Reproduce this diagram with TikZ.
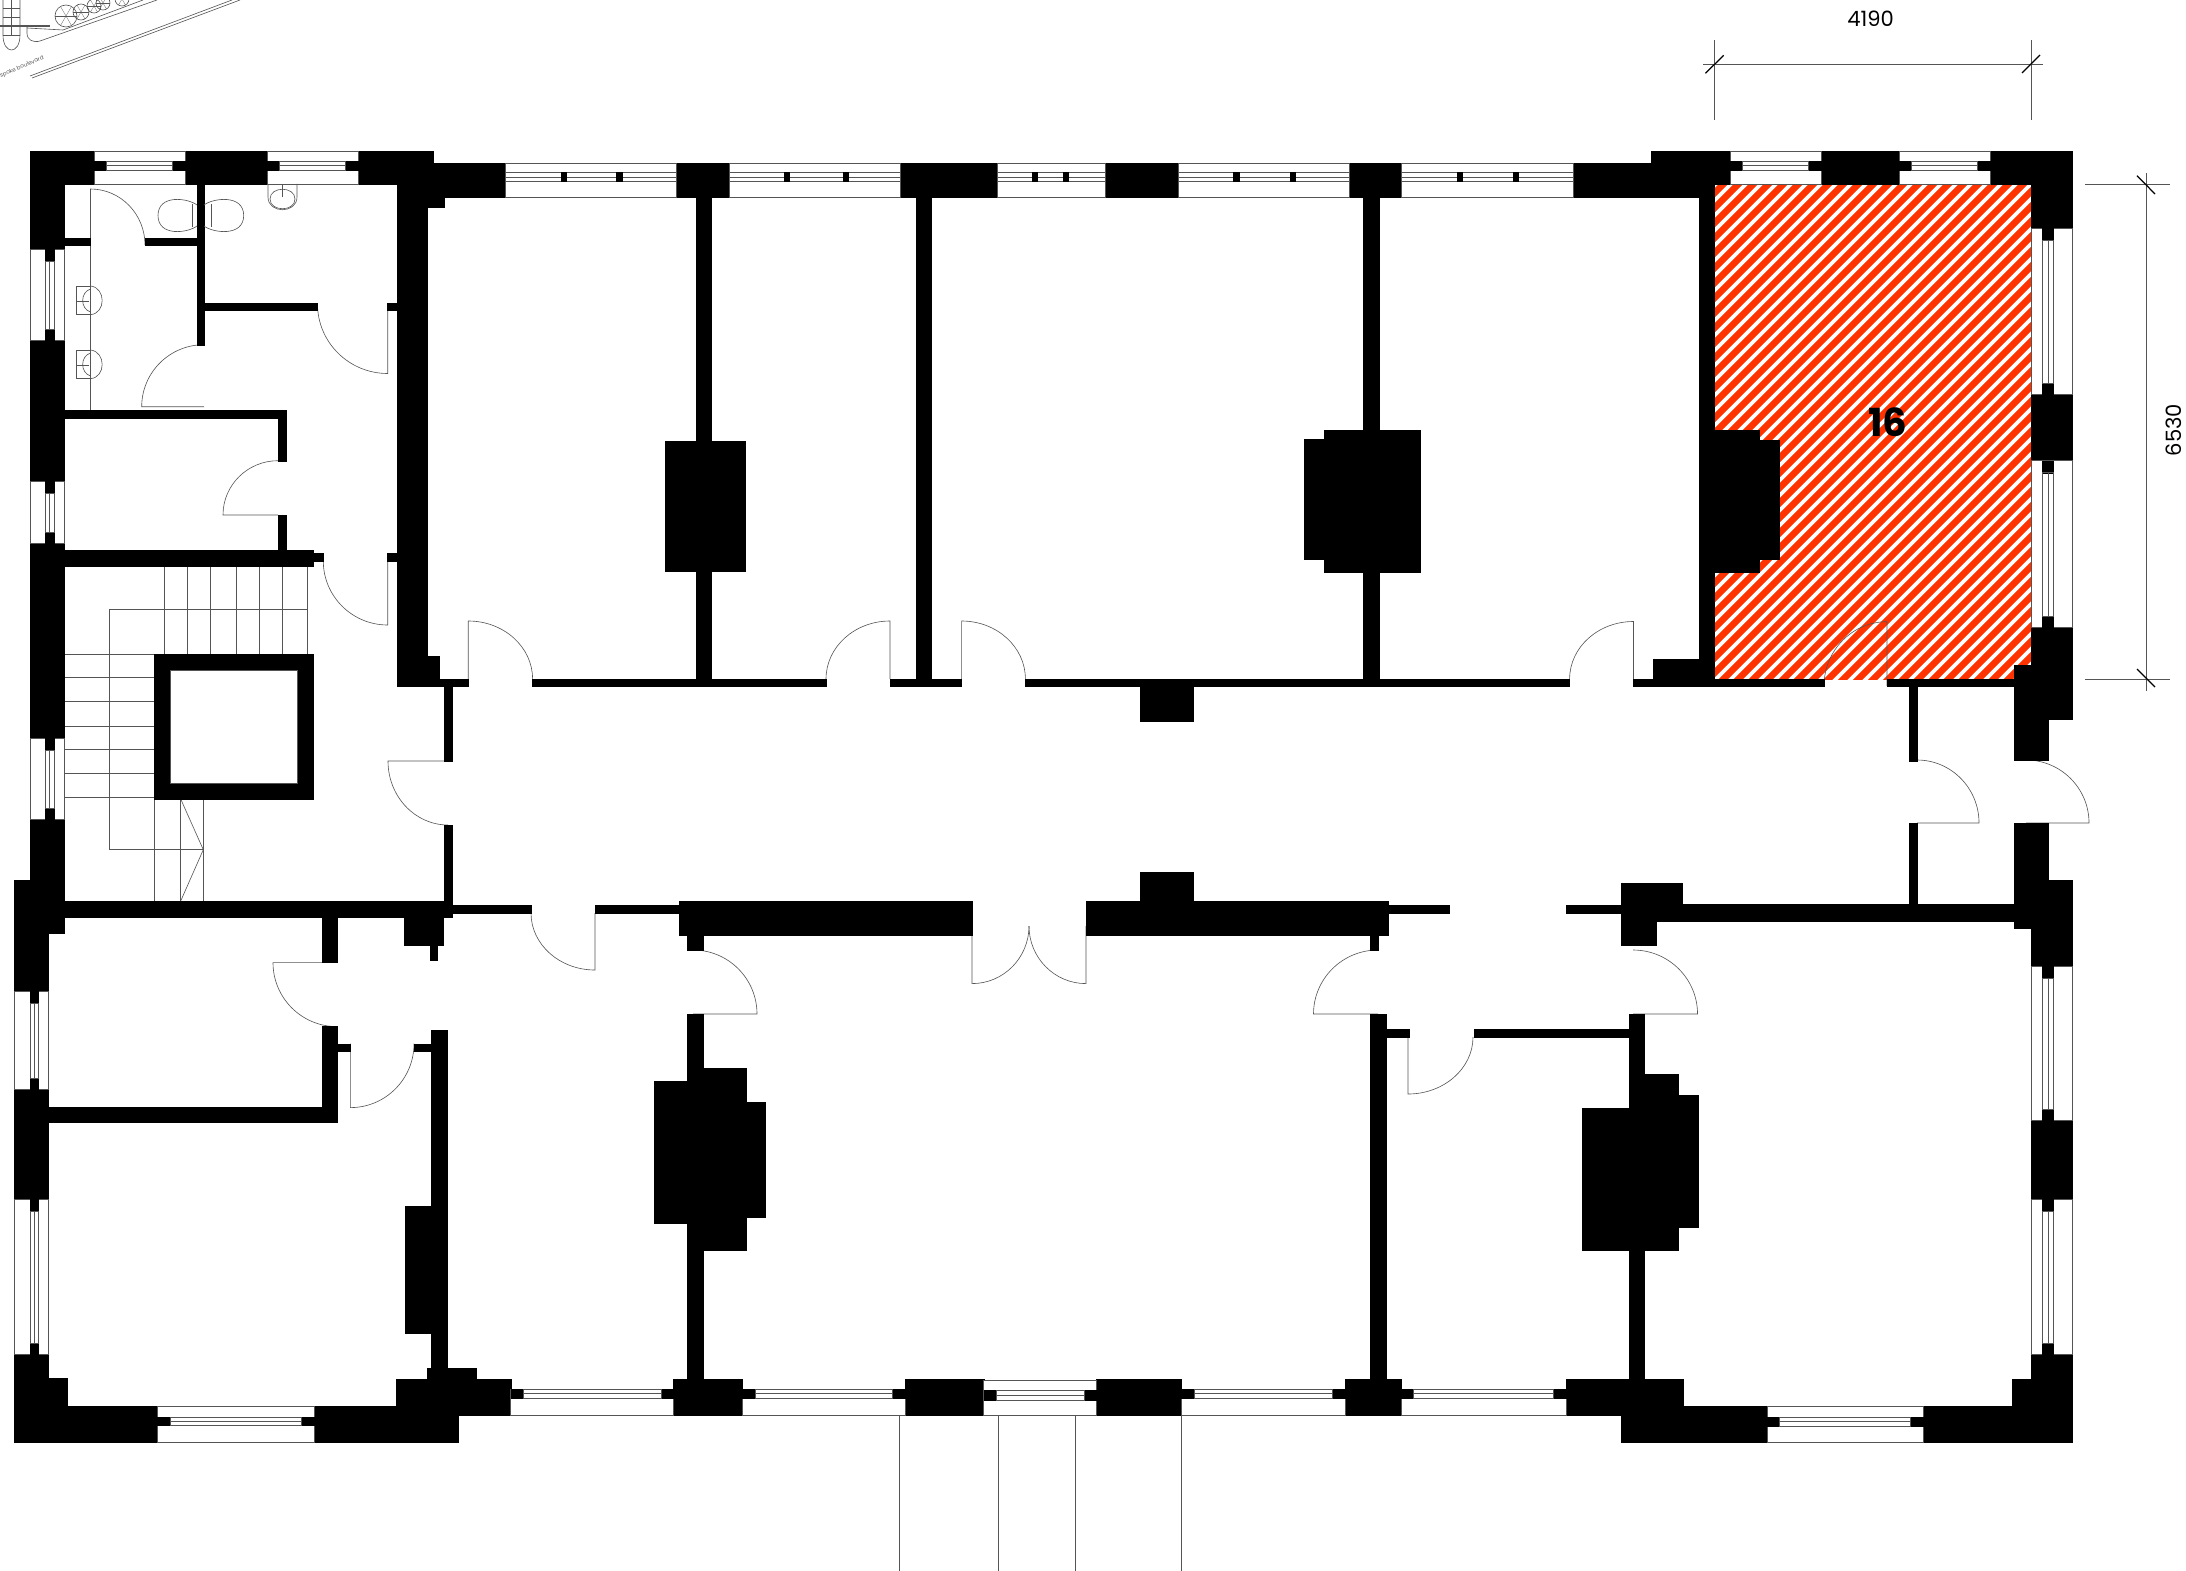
\documentclass[tikz,border=0pt]{standalone}
\usepackage{fontspec}
\setmainfont{Poppins}
\usepackage{tikz}
\usetikzlibrary{calc}
\definecolor{roomred}{HTML}{FF3300}
\definecolor{thingrey}{HTML}{555555}
\tikzset{
wall/.style={fill=black, draw=black, line width=0.15pt},
thinline/.style={draw=thingrey, line width=0.35pt},
glass/.style={fill=white, draw=thingrey, line width=0.35pt},
dimline/.style={draw=thingrey, line width=0.4pt},
ticktip/.style={draw=black, line width=0.7pt},
}
\begin{document}
\begin{tikzpicture}[x=0.02cm, y=-0.02cm]
\useasboundingbox (0,0) rectangle (2186,1571);
\clip (0,0) rectangle (2186,1571);
% hatched room
\fill[roomred] (1714,184) rectangle (2031,680);
\begin{scope}
\clip (1714,184) rectangle (2031,680);
\foreach \x in {1700,1715,...,2570}
{
\draw[white, line width=2.1pt] (\x,170) -- (\x-530,700);
}
\end{scope}
% doors: hinge / leaf end / arc end
\foreach \hx/\hy/\ex/\ey/\qx/\qy in {90.5/245/90.5/189/145/245, 387.7/304/387.7/373.5/317.5/304, 204/406.7/141.7/406.7/204/344.7, 278/515/223/515/278/460.7, 387.7/561/387.7/625/323.3/561, 448/761/388/761/448/825, 468.3/679/468.3/621/532.6/679, 890/679/890/621/826/679, 961.6/679/961.6/621/1025.4/679, 1633.5/679/1633.5/621.5/1569.6/679, 1887/686/1887/621.7/1824/686, 1917/823/1979/823/1917/760, 2026/823/2089/823/2026/760, 1378/1014/1313.5/1014/1378/950, 1408/1037/1408/1094/1473/1037, 1633/1014/1697.5/1014/1633/950, 693/1014/757/1014/693/950, 595/913/595/970/531/913, 972/926/972/983.6/1029/926, 1086/926/1086/983.6/1029/926, 337/962.6/273/962.6/337/1026.6, 350.4/1043.7/350.4/1107.6/414/1043.7}
{
\draw[thinline] (\hx,\hy) -- (\ex,\ey) .. controls ($(\ex,\ey)+0.552*(\qx,\qy)-0.552*(\hx,\hy)$) and ($(\qx,\qy)+0.552*(\ex,\ey)-0.552*(\hx,\hy)$) .. (\qx,\qy);
}
\draw[thinline] (90.5,245) -- (90.5,410);
% stairs
\foreach \x in {164.3,187.3,210.3,236.3,259.3,282.3,307.3}
{
\draw[thinline] (\x,566) -- (\x,654);
}
\foreach \y in {654,677.7,701.3,726.3,749.3,773.3,797.3}
{
\draw[thinline] (64,\y) -- (154,\y);
}
\foreach \x in {154.5,180.7,203.3}
{
\draw[thinline] (\x,799) -- (\x,901);
}
\draw[thinline] (307.3,609.3) -- (109.7,609.3) -- (109.7,849.7) -- (203.3,849.7);
\draw[thinline] (180.7,799) -- (203.3,849.7) -- (180.7,901);
% front steps
\foreach \x in {899.5,998.5,1075,1181.6}
{
\draw[thinline] (\x,1415) -- (\x,1571);
}
% walls
\foreach \xa/\ya/\xb/\yb in {30/151/433/184, 397/163/1699/197, 1651/151/2072/184, 1699/184/1714/197, 30/151/64/901, 397/184/427/686, 427/197/444/207, 427/656/439/686, 427/679/468.3/686.5, 696/197/711/686, 916/197/931/686, 1363/197/1379/686, 1699/197/1714/686, 532.6/679/826/686.5, 890/679/961.6/686.5, 1025.4/679/1569.6/686.5, 1633.5/679/1824/686.5, 1887/679/2014/686.5, 1653/659/1714/686, 2014/665/2072/719, 2031/184/2072/719, 2014/719/2048/760, 1140/686/1193/721,
64/410/286/418, 278/418/286/460.7, 278/515/286/549.7, 64/549.7/313/566, 313/553/323.3/560.7, 387/553/397/560.7, 197/184/204/344.7, 204/303/317/310, 387/303/397/310, 64/238/90/245, 145/238/197/245,
444/686/452/761, 444/825/452/901, 64/901/452/917, 404/917/443/945.3, 430/945/437.5/960.6, 452/905/531/913, 595/905/679/913, 14/880/64/933, 14/933/48.6/1442, 322.5/917/337.5/962.6, 322.5/1026.6/337.5/1122.5, 48.6/1107/337.5/1122.5, 337.5/1043.7/350.4/1051, 414/1043.7/431.4/1051, 431.4/1030/447/1368, 405/1206/431.4/1333.4, 427/1368/476/1379, 396/1379/510.7/1415, 14/1406.5/458/1442, 14/1378.6/67.5/1442,
679/901/972/935, 687.5/935/703.6/950, 687/1014/703/1379, 673/1379/742.5/1415, 905/1379/983.7/1415, 1096.5/1379/1181.6/1415, 1345/1379/1401/1415,
1086/901/1388/935, 1140/872.5/1193/901, 1388/905/1449/913, 1370/935/1378/950, 1370/1014/1386/1379, 1386/1029/1409/1037, 1474/1029/1629/1037, 1629/1014/1644/1379,
1566/905/1621/913, 1621/883.5/1682/921, 1621/921/1656/945, 1682/904/2014/920.7, 1909/686/1917/761, 1909/823/1917/904, 2014/823/2048/880, 2014/880/2072/928, 2031/880/2072/1442, 2012.5/1378.7/2031/1406.5, 1621/1406.5/2072/1442, 1566/1379/1683/1406.5, 1566/1379/1621/1415}
{
\draw[wall] (\xa,\ya) rectangle (\xb,\yb);
}
% chimney breasts
\foreach \xa/\ya/\xb/\yb in {665/441/745/571.5, 1324/430/1420/572.5, 1304/439.6/1324/558.7, 1714/430/1759/572, 1759/440/1779/559, 654.5/1081.4/703/1223, 703/1068/746.4/1250, 703/1102.5/765.5/1217, 1582/1108/1644/1250, 1644/1074/1678/1250, 1678/1094.7/1698/1226.7}
{
\draw[wall] (\xa,\ya) rectangle (\xb,\yb);
}
% lift shaft
\draw[wall] (154.3,654) rectangle (313.3,799);
\draw[fill=white, draw=thingrey, line width=0.35pt] (170,670) rectangle (297.7,783.5);
% windows, deep ones
\foreach \xa/\xb/\ya/\yb/\yc/\yd in {94/185/151/184/161/170, 267/358/151/184/161/170, 1730/1821/151/184/161/170, 1899/1990/151/184/161/170, 157.5/314/1406.5/1442/1417.6/1425.6, 1767/1923/1406.5/1442/1417/1426, 510.7/673.5/1389/1415/1389/1398, 742.5/905/1389/1415/1389/1398, 983.7/1096.5/1380/1415/1390/1400, 1181.6/1345/1389/1415/1389/1398, 1401/1566/1389/1415/1389/1398}
{
\draw[glass] (\xa,\ya) rectangle (\xb,\yb);
\draw[wall] (\xa,\yc) rectangle (\xa+12.5,\yd);
\draw[wall] (\xb-12.5,\yc) rectangle (\xb,\yd);
\draw[thinline] (\xa+12.5,\yc) rectangle (\xb-12.5,\yd);
\draw[thinline] (\xa+12.5,{0.5*(\yc+\yd)}) -- (\xb-12.5,{0.5*(\yc+\yd)});
}
% windows, corridor side of the long rooms
\foreach \xa/\xb/\xc/\xd in {505/676/561/616.5, 729/900/784/843, 997/1105.7/1032/1063, 1178.5/1349.5/1233.6/1290, 1401/1573/1457/1513}
{
\draw[glass] (\xa,163) rectangle (\xb,197);
\draw[thinline] (\xa,172.5) rectangle (\xb,181);
\draw[thinline] (\xa,177) -- (\xb,177);
\draw[wall] (\xc,172.5) rectangle (\xc+5.5,181);
\draw[wall] (\xd,172.5) rectangle (\xd+5.5,181);
}
% windows in the side walls
\foreach \xa/\xb/\xc/\xd/\ya/\yb in {30/64/45/54/249/340, 30/64/45/54/481/543.5, 30/64/45/54/738/819, 14/48.6/30/38.6/991/1089, 14/48.6/30/38.6/1199/1354, 2031/2072/2042.5/2053.6/228.3/394, 2031/2072/2042.5/2053.6/460.7/627, 2031/2072/2042.5/2053.6/966/1120, 2031/2072/2042.5/2053.6/1199/1354}
{
\draw[glass] (\xa,\ya) rectangle (\xb,\yb);
\draw[wall] (\xc,\ya) rectangle (\xd,\ya+12);
\draw[wall] (\xc,\yb-11) rectangle (\xd,\yb);
\draw[thinline] (\xc,\ya+12) rectangle (\xd,\yb-11);
\draw[thinline] ({0.5*(\xc+\xd)},\ya+12) -- ({0.5*(\xc+\xd)},\yb-11);
}
% toilet and basins
\draw[thinline] (197,205) .. controls (188,198) and (158,194) .. (158,215.5) .. controls (158,237) and (188,233) .. (197,226);
\draw[thinline] (204,205) .. controls (213,198) and (243.7,194) .. (243.7,215.5) .. controls (243.7,237) and (213,233) .. (204,226);
\draw[thinline] (192,204) -- (192,227);
\draw[thinline] (211,204) -- (211,227);
\draw[thinline] (268,184) -- (268,197) .. controls (268,214) and (297,214) .. (297,197) -- (297,184);
\draw[thinline] (270,199) .. controls (270,186) and (295,186) .. (295,199) .. controls (295,212) and (270,212) .. (270,199);
\draw[thinline] (282.7,185) -- (282.7,197);
\foreach \y in {286,350}
{
\draw[thinline] (90.7,\y) -- (76.3,\y) -- (76.3,\y+28.7) -- (90.7,\y+28.7);
\draw[thinline] (90.7,\y) .. controls (106,\y+2) and (106,\y+27) .. (90.7,\y+28.7);
\draw[thinline] (90.7,\y+3) .. controls (80,\y+6) and (80,\y+23) .. (90.7,\y+26);
\draw[thinline] (76.7,\y+15) -- (89,\y+15);
}
% site plan
\draw[thinline] (3,-2) -- (3,35) .. controls (3,55) and (20,55) .. (20,35) -- (20,-2);
\foreach \y in {8,17,26,35}
{
\draw[thinline] (3,\y) -- (20,\y);
}
\draw[thinline] (11.5,-2) -- (11.5,35);
\draw[line width=0.7pt, draw=thingrey] (0,26) -- (50,26);
\foreach \x/\y/\r in {66/16/11, 81/12/8, 94/6/7, 103/3/7, 122/-1/7}
{
\draw[thinline] (\x,\y) ellipse (\r cm*0.02 and \r cm*0.02);
\foreach \a in {0,60,...,300}
{
\draw[draw=thingrey, line width=0.15pt] (\x,\y) -- ++(\a:\r);
}
}
\draw[thinline] (27,26) -- (27,33) .. controls (27,40) and (33,43) .. (40,41) -- (157,0);
\draw[thinline] (27,28) -- (63,30) -- (143,0);
\draw[thinline] (30,76) -- (232,0);
\draw[thinline] (32,78) -- (240,0);
\node[rotate=23, font=\fontsize{3.2}{4}\selectfont, text=thingrey, inner sep=0pt] (sitename) at (22,67) {spoke boulevard};
% dimensions
\draw[dimline] (1714,40) -- (1714,120);
\draw[dimline] (2031,40) -- (2031,120);
\draw[dimline] (1703,64) -- (2043,64);
\draw[ticktip] (1705.5,73.3) -- (1723.6,55.3);
\draw[ticktip] (2022,73) -- (2040,55);
\draw[dimline] (2085,184) -- (2170,184);
\draw[dimline] (2085,679) -- (2170,679);
\draw[dimline] (2146.6,173) -- (2146.6,690.7);
\draw[ticktip] (2137,175.7) -- (2155,194);
\draw[ticktip] (2137,669) -- (2155,687);
\node[font=\fontsize{12}{14}\selectfont, inner sep=0pt] (widthlabel) at (1870.5,19) {4190};
\node[rotate=90, font=\fontsize{12}{14}\selectfont, inner sep=0pt] (depthlabel) at (2174,430) {6530};
\node[font=\fontsize{22}{26}\selectfont\bfseries, inner sep=0pt] (roomlabel) at (1888,422) {16};
\end{tikzpicture}
\end{document}
